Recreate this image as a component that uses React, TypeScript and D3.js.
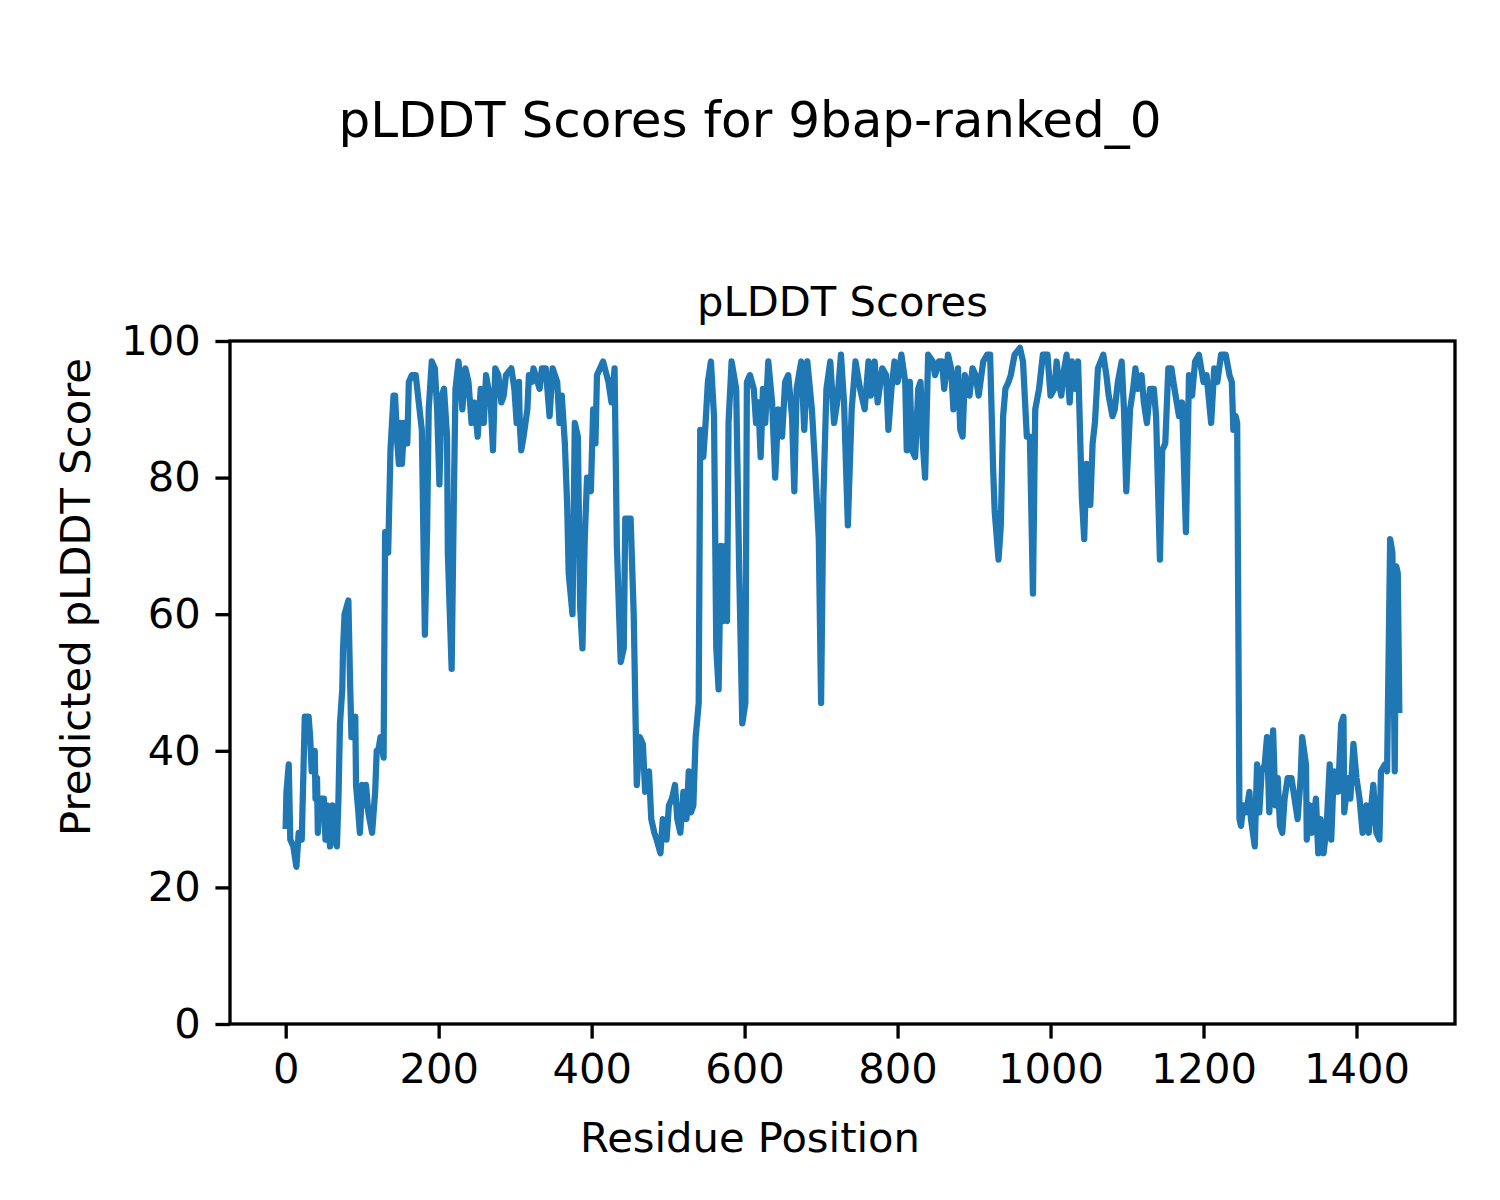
import { useEffect, useRef } from 'react';
import * as d3 from 'd3';

// ─── Data ───────────────────────────────────────────────────

const residue = [
  0, 1, 4, 6, 10, 14, 17, 21, 25, 30, 32, 34, 38, 39, 41, 42, 45, 50, 52, 54,
  58, 61, 63, 67, 69, 71, 74, 75, 77, 82, 84, 86, 91, 92, 95, 97, 100, 102, 105, 108,
  113, 117, 119, 121, 124, 128, 130, 134, 137, 141, 143, 146, 148, 150, 152, 155, 159, 161, 165, 170,
  174, 178, 182, 185, 187, 191, 195, 198, 201, 204, 207, 211, 212, 217, 220, 222, 226, 231, 235, 239,
  243, 247, 251, 255, 259, 262, 268, 271, 274, 278, 282, 285, 288, 295, 299, 302, 305, 306, 308, 311,
  316, 318, 322, 324, 332, 335, 340, 345, 349, 355, 358, 361, 365, 368, 370, 375, 378, 382, 385, 388,
  391, 394, 399, 402, 405, 407, 415, 422, 426, 430, 433, 438, 442, 444, 451, 455, 459, 463, 467, 470,
  475, 478, 482, 485, 490, 493, 498, 501, 505, 509, 512, 516, 520, 524, 527, 530, 533, 536, 540, 542,
  546, 549, 552, 556, 560, 563, 566, 569, 572, 575, 577, 579, 583, 589, 593, 597, 601, 603, 607, 612,
  615, 618, 621, 624, 627, 631, 636, 640, 644, 649, 653, 657, 662, 665, 668, 674, 678, 682, 688, 692,
  697, 700, 703, 707, 712, 717, 721, 726, 730, 735, 740, 745, 751, 757, 762, 765, 770, 774, 780, 785,
  788, 792, 796, 800, 805, 810, 812, 816, 819, 823, 827, 830, 833, 836, 840, 846, 849, 854, 858, 861,
  866, 870, 873, 879, 882, 885, 888, 894, 898, 902, 906, 912, 917, 921, 925, 927, 932, 935, 938, 941,
  945, 948, 953, 960, 964, 969, 973, 977, 980, 985, 990, 996, 1000, 1005, 1008, 1011, 1014, 1018, 1021, 1025,
  1028, 1032, 1036, 1041, 1044, 1047, 1052, 1055, 1058, 1062, 1069, 1073, 1076, 1081, 1084, 1088, 1093, 1096, 1099, 1104,
  1108, 1111, 1114, 1119, 1122, 1126, 1130, 1135, 1138, 1143, 1146, 1150, 1154, 1158, 1162, 1168, 1172, 1177, 1181, 1185,
  1189, 1194, 1200, 1204, 1210, 1214, 1218, 1223, 1229, 1234, 1237, 1239, 1242, 1244, 1247, 1249, 1252, 1256, 1260, 1262,
  1267, 1270, 1273, 1276, 1280, 1283, 1286, 1289, 1291, 1294, 1297, 1300, 1303, 1306, 1310, 1315, 1319, 1323, 1327, 1329,
  1334, 1335, 1339, 1342, 1347, 1350, 1353, 1357, 1361, 1365, 1367, 1369, 1371, 1376, 1380, 1383, 1384, 1389, 1392, 1396,
  1400, 1404, 1408, 1413, 1416, 1422, 1426, 1430, 1432, 1437, 1440, 1442, 1444, 1447, 1450, 1452, 1454, 1456,
];

const plddt = [
  29, 34, 38, 27, 26, 23, 28, 27, 45, 45, 42, 37, 40, 33, 36, 28, 33, 33, 27, 32,
  26, 32, 28, 26, 33, 44, 49, 55, 60, 62, 51, 42, 45, 35, 31, 28, 35, 32, 35, 31,
  28, 34, 40, 40, 42, 39, 72, 69, 84, 92, 92, 85, 82, 88, 82, 88, 85, 94, 95, 95,
  91, 87, 57, 73, 90, 97, 96, 90, 79, 92, 93, 86, 69, 52, 78, 93, 97, 90, 96, 94,
  88, 91, 86, 93, 88, 95, 91, 84, 96, 95, 91, 92, 95, 96, 93, 88, 94, 88, 84, 86,
  90, 95, 94, 96, 93, 96, 96, 89, 96, 94, 88, 92, 85, 76, 66, 60, 88, 86, 61, 55,
  71, 80, 78, 90, 85, 95, 97, 94, 91, 96, 70, 53, 55, 74, 74, 60, 35, 42, 41, 34,
  37, 30, 28, 27, 25, 30, 27, 32, 33, 35, 30, 28, 34, 30, 37, 31, 32, 42, 47, 87,
  83, 88, 94, 97, 89, 55, 49, 70, 59, 70, 59, 88, 97, 93, 66, 44, 47, 94, 95, 93,
  88, 91, 83, 93, 88, 97, 91, 80, 90, 86, 94, 95, 89, 78, 93, 97, 87, 97, 90, 82,
  71, 47, 77, 93, 97, 88, 91, 98, 91, 73, 90, 97, 93, 90, 97, 92, 97, 91, 96, 95,
  87, 93, 97, 94, 98, 94, 84, 94, 84, 83, 93, 94, 85, 80, 98, 97, 95, 97, 97, 93,
  98, 96, 90, 96, 87, 86, 95, 92, 96, 95, 92, 97, 98, 98, 81, 75, 68, 73, 89, 93,
  94, 95, 98, 99, 97, 86, 86, 63, 90, 93, 98, 98, 92, 93, 97, 94, 92, 96, 98, 91,
  97, 93, 97, 77, 71, 82, 76, 85, 88, 96, 98, 95, 92, 89, 90, 94, 97, 90, 78, 90,
  93, 96, 93, 95, 91, 88, 93, 93, 89, 68, 84, 85, 96, 96, 93, 89, 91, 72, 95, 92,
  97, 98, 94, 95, 88, 96, 94, 98, 98, 95, 94, 87, 89, 88, 30, 29, 32, 31, 34, 30,
  26, 38, 31, 37, 38, 42, 31, 37, 43, 32, 36, 29, 28, 33, 36, 36, 33, 30, 36, 42,
  38, 27, 32, 28, 33, 25, 30, 25, 29, 38, 27, 33, 37, 34, 44, 45, 31, 36, 33, 41,
  36, 33, 28, 32, 28, 35, 28, 27, 37, 38, 37, 54, 71, 69, 37, 67, 66, 46,
];

const xTicks = [0, 200, 400, 600, 800, 1000, 1200, 1400];
const yTicks = [0, 20, 40, 60, 80, 100];

const figTitle = 'pLDDT Scores for 9bap-ranked_0';
const axTitle = 'pLDDT Scores';
const xLabel = 'Residue Position';
const yLabel = 'Predicted pLDDT Score';

// ─── Component ──────────────────────────────────────────────

const WIDTH = 1500;
const HEIGHT = 1200;
const FONT = '"DejaVu Sans", sans-serif';

export default function App() {
  const svgRef = useRef<SVGSVGElement>(null);

  useEffect(() => {
    if (!svgRef.current) return;
    const svg = d3.select(svgRef.current);
    svg.selectAll('*').remove();

    // axes box in figure pixels (5x4 in @ 300 dpi)
    const box = { left: 230, right: 1455, top: 341, bottom: 1024 };
    const pt = 300 / 72;

    const data = residue.map((r, i) => ({ r, v: plddt[i] }));

    const [xMin, xMax] = d3.extent(residue) as [number, number];
    const pad = (xMax - xMin) * 0.05;
    const x = d3.scaleLinear().domain([xMin - pad, xMax + pad]).range([box.left, box.right]);
    const y = d3.scaleLinear().domain([0, 100]).range([box.bottom, box.top]);

    svg.append('rect').attr('width', WIDTH).attr('height', HEIGHT).attr('fill', '#fff');

    // clip line to the axes
    svg.append('defs').append('clipPath').attr('id', 'plot-clip')
      .append('rect')
      .attr('x', box.left).attr('y', box.top)
      .attr('width', box.right - box.left).attr('height', box.bottom - box.top);

    const line = d3.line<{ r: number; v: number }>()
      .x((d) => x(d.r))
      .y((d) => y(d.v));

    svg.append('path')
      .datum(data)
      .attr('clip-path', 'url(#plot-clip)')
      .attr('fill', 'none')
      .attr('stroke', '#1f77b4')
      .attr('stroke-width', 1.5 * pt)
      .attr('stroke-linejoin', 'round')
      .attr('stroke-linecap', 'square')
      .attr('d', line);

    // axes
    const styleAxis = (g: d3.Selection<SVGGElement, unknown, null, undefined>) => {
      g.select('.domain').remove();
      g.selectAll('.tick line').attr('stroke', '#000').attr('stroke-width', 0.8 * pt);
      g.selectAll('.tick text')
        .attr('fill', '#000')
        .style('font-family', FONT)
        .style('font-size', `${10 * pt}px`);
    };

    svg.append('g')
      .attr('transform', `translate(0,${box.bottom})`)
      .call(d3.axisBottom(x).tickValues(xTicks).tickSize(3.5 * pt).tickPadding(3.5 * pt).tickFormat(d3.format('d')))
      .call(styleAxis);

    svg.append('g')
      .attr('transform', `translate(${box.left},0)`)
      .call(d3.axisLeft(y).tickValues(yTicks).tickSize(3.5 * pt).tickPadding(3.5 * pt).tickFormat(d3.format('d')))
      .call(styleAxis);

    // spines
    svg.append('rect')
      .attr('x', box.left).attr('y', box.top)
      .attr('width', box.right - box.left).attr('height', box.bottom - box.top)
      .attr('fill', 'none')
      .attr('stroke', '#000')
      .attr('stroke-width', 0.8 * pt)
      .attr('stroke-linejoin', 'miter');

    const text = (tx: number, ty: number, s: string, size: number, rotate = 0) =>
      svg.append('text')
        .attr('transform', `translate(${tx},${ty}) rotate(${rotate})`)
        .attr('text-anchor', 'middle')
        .style('font-family', FONT)
        .style('font-size', `${size}px`)
        .attr('fill', '#000')
        .text(s);

    const cx = (box.left + box.right) / 2;
    text(WIDTH / 2, 137, figTitle, 12 * pt);
    text(cx, 316, axTitle, 10 * pt);
    // axis labels are centred on the figure, as in the reference
    text(WIDTH / 2, 1152, xLabel, 10 * pt);
    text(90, 597, yLabel, 10 * pt, -90);
  }, []);

  return (
    <div style={{ width: WIDTH, height: HEIGHT }}>
      <style>{'body{margin:0}'}</style>
      <svg ref={svgRef} width={WIDTH} height={HEIGHT} style={{ display: 'block' }} />
    </div>
  );
}
